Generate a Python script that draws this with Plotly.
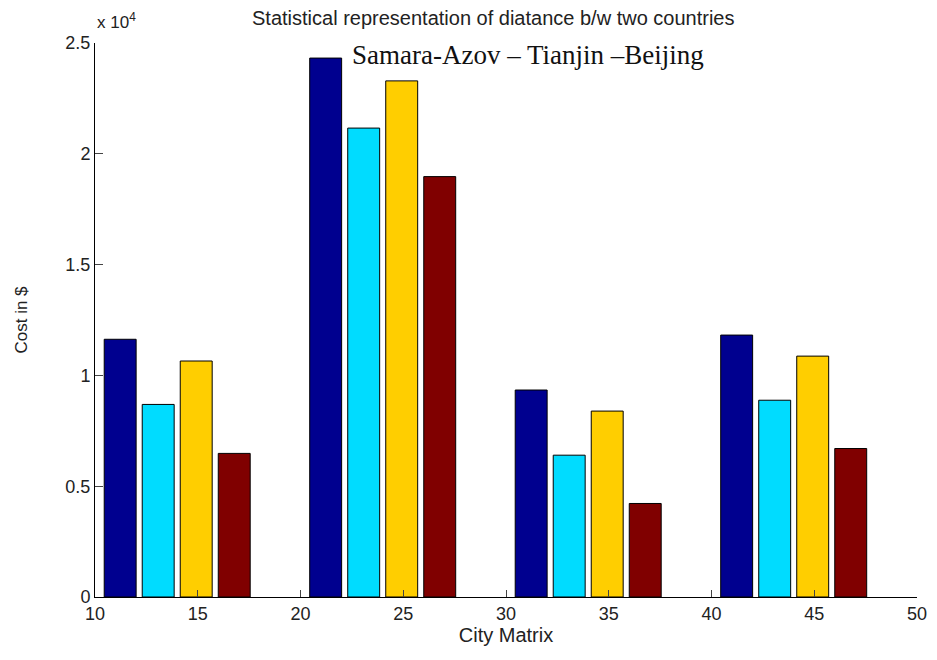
import plotly.graph_objects as go

# Data
group_centers = [14, 24, 34, 44]
series_names = ["Series 1", "Series 2", "Series 3", "Series 4"]
series_values = {
    "Series 1": [11630, 24320, 9340, 11820],
    "Series 2": [8690, 21160, 6400, 8880],
    "Series 3": [10650, 23290, 8390, 10870],
    "Series 4": [6480, 18970, 4220, 6700],
}
series_colors = ["#00008F", "#00DCFF", "#FFCE00", "#800000"]
x_ticks = [10, 15, 20, 25, 30, 35, 40, 45, 50]
y_tickvals = [0, 5000, 10000, 15000, 20000, 25000]
y_ticktext = ["0", "0.5", "1", "1.5", "2", "2.5"]

SANS = "Liberation Sans, Arial, sans-serif"

fig = go.Figure()
for name, color in zip(series_names, series_colors):
    fig.add_trace(go.Bar(
        x=group_centers, y=series_values[name], name=name,
        marker=dict(color=color, line=dict(color="black", width=1)),
    ))

fig.update_layout(
    width=929, height=652,
    barmode="group", bargap=0.26, bargroupgap=0.16,
    paper_bgcolor="white", plot_bgcolor="white",
    showlegend=False,
    margin=dict(l=87, r=20, t=35, b=63),
    font=dict(family=SANS, color="#222222", size=18),
    xaxis=dict(
        range=[10, 50], tickvals=x_ticks, ticks="inside", ticklen=7,
        showline=True, linecolor="black", linewidth=1, showgrid=False,
        zeroline=False, tickfont=dict(size=18), automargin=False,
        title=dict(text="City Matrix", font=dict(size=20), standoff=2),
    ),
    yaxis=dict(
        range=[0, 25000], tickvals=y_tickvals, ticktext=y_ticktext,
        ticks="inside", ticklen=8, showline=True, linecolor="black",
        linewidth=1, showgrid=False, zeroline=False, tickfont=dict(size=18),
        automargin=False,
        title=dict(text="Cost in $", font=dict(size=17), standoff=33),
    ),
    annotations=[
        dict(text="Statistical representation of diatance b/w two countries",
             xref="paper", yref="paper", x=0.484, y=1.0, yshift=25,
             xanchor="center", yanchor="middle", showarrow=False,
             font=dict(family=SANS, size=20)),
        dict(text="Samara-Azov – Tianjin –Beijing",
             xref="paper", yref="paper", x=0.527, y=1.0, yshift=-12,
             xanchor="center", yanchor="middle", showarrow=False,
             font=dict(family="Liberation Serif, Times New Roman, serif", size=27, color="#111111")),
        dict(text="x 10<sup>4</sup>",
             xref="paper", yref="paper", x=0.0, y=1.0, yshift=22,
             xanchor="left", yanchor="middle", showarrow=False,
             font=dict(family=SANS, size=17)),
    ],
)

fig.write_html("out.html")
